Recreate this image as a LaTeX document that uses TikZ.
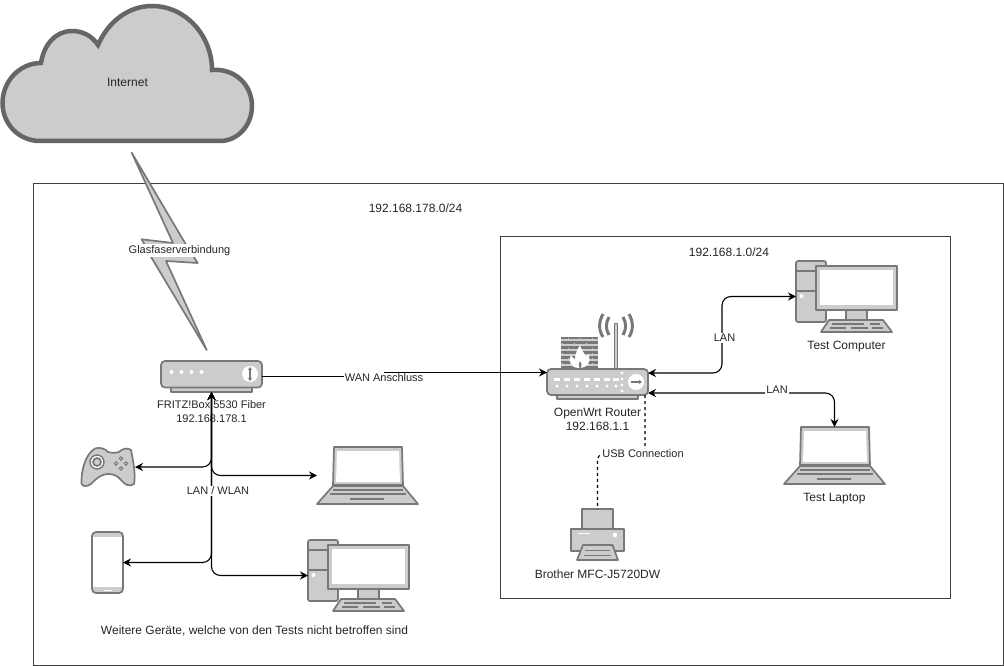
\documentclass[tikz,border=0pt]{standalone}
\usepackage{fontspec}
\setmainfont{Liberation Sans}
\usepackage{xcolor}
\usetikzlibrary{arrows.meta, positioning, calc}
\definecolor{iconfill}{HTML}{CCCCCC}
\definecolor{iconline}{HTML}{787878}
\tikzset{
        x=1pt, y=-1pt,
        netbox/.style={draw=black!75, line width=1pt},
        iconbox/.style={rectangle, inner sep=0pt, outer sep=0pt},
        iconpart/.style={draw=iconline, fill=iconfill, line width=1.7pt, line join=round},
        iconwhite/.style={fill=white, draw=none},
        iconrule/.style={draw=iconline, line width=1.5pt},
        caption/.style={font=\fontsize{12}{14}\selectfont, align=center, text=black!85, inner sep=0pt},
        tag/.style={font=\fontsize{11}{13}\selectfont, fill=white, text=black!85, inner sep=1pt},
        link/.style={{Stealth[length=8pt,width=8pt]}-{Stealth[length=8pt,width=8pt]}, line width=1.1pt, rounded corners=9pt},
        usblink/.style={dashed, line width=1.1pt, rounded corners=6pt},
        pics/desktop/.style={code={
            \draw[iconpart, rounded corners=2pt] (0,0) rectangle (30,61);
            \draw[iconrule] (0,10) -- (30,10) (0,30) -- (30,30);
            \fill[iconwhite] (5.5,35) circle (2);
            \draw[iconpart] (50,49) rectangle (71,59);
            \draw[iconpart] (33,59) -- (87,59) -- (96,71) -- (25,71) -- cycle;
            \draw[iconrule] (36,63) -- (68,63) (74,63) -- (84,63) (34,67) -- (50,67) (55,67) -- (72,67) (76,67) -- (87,67);
            \draw[iconpart] (20,5) rectangle (101,49);
            \fill[iconwhite] (24,9) rectangle (97,44);
        }},
        pics/notebook/.style={code={
            \draw[iconpart] (0,57) -- (16,39) -- (86,39) -- (101,57) -- cycle;
            \draw[iconpart] (17,0) -- (85,0) -- (86,38) -- (16,38) -- cycle;
            \fill[iconwhite] (20,4) -- (82,4) -- (83,35) -- (19,35) -- cycle;
            \draw[iconrule] (16,43) -- (86,43) (13,47) -- (89,47) (33,52) -- (67,52);
        }},
    }

\begin{document}
\begin{tikzpicture}

        \useasboundingbox (0,0) rectangle (1004,666);
        \fill[white] (0,0) rectangle (1004,666);

        % === NETWORK BOXES ===
        \node[iconbox, minimum width=969.5pt, minimum height=482pt, anchor=north west, netbox] (outernet) at (33.5,183) {};
        \node[iconbox, minimum width=450pt, minimum height=362pt, anchor=north west, netbox] (innernet) at (500.5,236) {};
        \node[caption] (outerlabel) at (415.5,208) {192.168.178.0/24};
        \node[caption] (innerlabel) at (729,252) {192.168.1.0/24};

        % === INTERNET ===
        \draw[draw=black!60, fill=iconfill, line width=4.5pt, line join=miter] (40,141)
            .. controls (19,141) and (2.5,124) .. (2.5,103)
            .. controls (2.5,82) and (19,63) .. (41,63)
            .. controls (44,44) and (56,31) .. (72,31)
            .. controls (83,31) and (92,36) .. (98,45)
            .. controls (108,22) and (128,6) .. (152,6)
            .. controls (186,6) and (212,36) .. (212,70)
            .. controls (235,68) and (252,85) .. (252,106)
            .. controls (252,125) and (238,141) .. (220,141) -- cycle;
        \node[caption] (internet) at (127.5,82) {Internet};

        % lightning bolt
        \draw[iconpart] (131.7,152.7) -- (185,243) -- (197.7,263) -- (166,261) -- (206.7,350)
            -- (151.7,258) -- (141.7,239.3) -- (173,243) -- cycle;
        \node[tag] (fiberlabel) at (179.5,250.5) {Glasfaserverbindung};

        % === FRITZBOX ===
        \node[iconbox, minimum width=101pt, minimum height=31pt, anchor=north west] (fritz) at (161,361) {};
        \draw[iconpart] (171,387) rectangle (252,392);
        \draw[iconpart, rounded corners=4pt] (161,361) rectangle (262,387.5);
        \foreach \dotx in {171.5,181.5,191.5,201.5}
            \fill[iconwhite] (\dotx,372) circle (2);
        \fill[iconwhite] (250,374) circle (8);
        \draw[iconline, line width=1.5pt, {Stealth[length=3pt,width=4pt]}-{Stealth[length=3pt,width=4pt]}] (250,367) -- (250,381);
        \node[caption, font=\fontsize{11}{14}\selectfont, below=8pt of fritz] (fritzlabel) {FRITZ!Box 5530 Fiber\\192.168.178.1};

        % === ROUTER ===
        \node[iconbox, minimum width=101pt, minimum height=30pt, anchor=north west] (router) at (547,369) {};
        \coordinate (routerwan) at (547,372.5);
        \coordinate (routerpc) at (648,373);
        \coordinate (routerlap) at (648,393);
        \coordinate (routerusb) at (645,395);
        % firewall
        \fill[iconline] (561,337) rectangle (598,369);
        \foreach \rowy in {340,345,350,355,360,365} {
            \draw[iconfill, line width=1.2pt] (561,\rowy) -- (598,\rowy);
        }
        \foreach \rowy/\brickx in {338/568,338/580,338/592,343/562,343/574,343/586,348/568,348/592,353/562,353/592,358/568,358/592,363/562,363/592}
            \draw[iconfill, line width=1pt] (\brickx,\rowy) -- (\brickx,\rowy+3);
        \fill[white] (579,368) .. controls (570,368) and (568,360) .. (571,355)
            .. controls (572,358) and (574,359) .. (575,359)
            .. controls (575,353) and (578,349) .. (580,345)
            .. controls (581,350) and (584,353) .. (586,356)
            .. controls (587,356) and (588,355) .. (588,354)
            .. controls (592,361) and (588,368) .. (579,368) -- cycle;
        \fill[iconline] (579.5,368) .. controls (578,365) and (579,363) .. (580,361)
            .. controls (581.5,363) and (582,365) .. (581,368) -- cycle;
        % antenna
        \draw[iconpart, line width=1pt] (614.5,323) rectangle (617.5,369);
        \draw[iconline, line width=3pt] (609,317) .. controls (605.5,323) and (605.5,329) .. (609,335)
            (603,314) .. controls (598.5,322) and (598.5,330) .. (603,337)
            (623,317) .. controls (626.5,323) and (626.5,329) .. (623,335)
            (629,314) .. controls (633.5,322) and (633.5,330) .. (629,337);
        % body
        \draw[iconpart] (557,395) rectangle (638,399);
        \draw[iconpart, rounded corners=4pt] (547,369) rectangle (648,395);
        \foreach \dotx in {557,567,577,587,597,607,616} {
            \fill[iconwhite] (\dotx-3,378) rectangle (\dotx+3,380.5);
            \fill[iconwhite] (\dotx,386) circle (1.7);
        }
        \foreach \doty in {373,379,385,391}
            \fill[iconwhite] (622,\doty) circle (1.7);
        \fill[iconwhite] (636,382) circle (8);
        \draw[iconline, line width=1.3pt, -{Stealth[length=3pt,width=4pt]}] (631,382) -- (642,382);
        \node[caption, below=9pt of router] (routerlabel) {OpenWrt Router\\192.168.1.1};

        % === LEFT DEVICES ===
        \node[iconbox, minimum width=54.5pt, minimum height=38pt, anchor=north west] (gamepad) at (80.5,448) {};
        \draw[iconpart] (95,448.5) .. controls (102,447) and (105,449) .. (108,452)
            .. controls (111,453) and (116,453) .. (119,452)
            .. controls (122,449) and (127,447) .. (131,450)
            .. controls (133,460) and (136,475) .. (134,484)
            .. controls (130,487) and (125,485) .. (122,481)
            .. controls (118,476) and (114,474) .. (108,474)
            .. controls (103,474) and (98,477) .. (94,481)
            .. controls (90,486) and (84,488) .. (81.5,484)
            .. controls (81,474) and (84,455) .. (95,448.5) -- cycle;
        \draw[iconline, line width=1.5pt, fill=white] (97,462) circle (7);
        \draw[iconpart] (97,462) circle (4);
        \foreach \padx/\pady in {121/458.5,121/468.5,116/463.5,126/463.5}
            \draw[iconline, line width=1pt, fill=white] (\padx,\pady) circle (1.6);

        \node[iconbox, minimum width=31pt, minimum height=61pt, anchor=north west] (phone) at (92,532) {};
        \draw[iconpart, rounded corners=4pt] (92,532) rectangle (123,593);
        \fill[iconwhite] (93,537) rectangle (122,587);
        \fill[iconwhite] (104,589.5) rectangle (112,591);

        \node[iconbox, minimum width=101pt, minimum height=57pt, anchor=north west] (laptopleft) at (317,447) {};
        \pic at (317,447) {notebook};
        \node[iconbox, minimum width=101pt, minimum height=71pt, anchor=north west] (pcleft) at (308,540) {};
        \pic at (308,540) {desktop};

        \node[caption] (otherlabel) at (254.5,631) {Weitere Geräte, welche von den Tests nicht betroffen sind};

        % === RIGHT DEVICES ===
        \node[iconbox, minimum width=101pt, minimum height=71pt, anchor=north west] (pctest) at (796,261) {};
        \pic at (796,261) {desktop};
        \node[caption, below=9pt of pctest] (pctestlabel) {Test Computer};

        \node[iconbox, minimum width=101pt, minimum height=57pt, anchor=north west] (laptoptest) at (784,427) {};
        \pic at (784,427) {notebook};
        \node[caption, below=9pt of laptoptest] (laptoptestlabel) {Test Laptop};

        \node[iconbox, minimum width=53pt, minimum height=51pt, anchor=north west] (printer) at (571,509) {};
        \draw[iconpart] (582,509) rectangle (613,529);
        \draw[iconpart] (571,529) rectangle (624,551);
        \fill[iconwhite] (615,535) circle (2.3);
        \fill[iconwhite] (578,532.5) rectangle (590,533.5);
        \draw[iconpart] (583,545) -- (612.5,545) -- (618,560) -- (577,560) -- cycle;
        \draw[iconrule, line width=1pt] (585,550) -- (610,550) (584,555) -- (611,555);
        \node[caption, below=10pt of printer] (printerlabel) {Brother MFC-J5720DW};

        % === CONNECTORS ===
        \draw[link] (fritz.south) |- (gamepad.east);
        \draw[link] (fritz.south) |- (laptopleft.west);
        \draw[link] (fritz.south) |- (phone.east);
        \draw[link] (fritz.south) |- (pcleft.west);
        \draw[line width=1.1pt] (fritz.east) -- (384,376.5) -- (384,372.5);
        \draw[line width=1.1pt, -{Stealth[length=8pt,width=8pt]}] (384,372.5) -- (routerwan);
        \draw[link] (routerpc) -- (722,373) -- (722,296.5) -- (pctest.west);
        \draw[link] (routerlap) -| (laptoptest.north);
        \draw[usblink] (routerusb) -- (645,454) -- (597.5,454) -- (printer.north -| 597.5,0);

        \node[tag] (wanlabel) at (384,378) {WAN Anschluss};
        \node[tag] (lanwlanlabel) at (218,491) {LAN / WLAN};
        \node[tag] (lanpclabel) at (724.5,338) {LAN};
        \node[tag] (lanlaplabel) at (777,390) {LAN};
        \node[tag] (usblabel) at (643,454) {USB Connection};

\end{tikzpicture}
\end{document}
